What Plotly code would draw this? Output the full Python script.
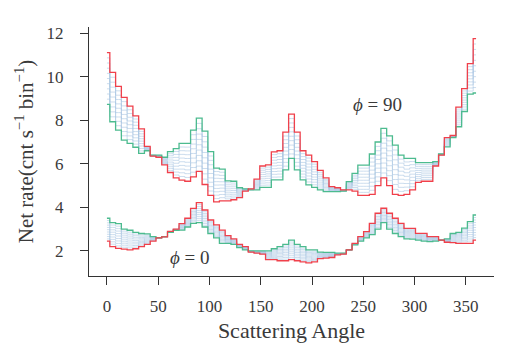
import plotly.graph_objects as go

# Bin centres (degrees): 64 bins of 5.625 deg, endpoints 0 and 360 included
angles = [k * 5.625 for k in range(65)]

# phi = 90 group
red_90 = [11.1, 10.2, 9.55, 9.05, 8.65, 8.2, 7.6, 6.8, 6.35, 6.3,
          5.95, 5.6, 5.35, 5.25, 5.2, 5.4, 5.65, 5.05, 4.55, 4.25,
          4.3, 4.3, 4.35, 4.45, 4.75, 4.85, 5.3, 5.9, 5.95, 6.55,
          6.6, 7.45, 8.28, 7.45, 6.6, 6.4, 6.1, 5.7, 5.35, 4.95,
          4.9, 4.8, 4.8, 4.75, 4.55, 4.55, 4.6, 5.0, 5.35, 5.0,
          4.6, 4.55, 4.6, 4.8, 5.15, 5.2, 5.2, 5.9, 6.4, 7.2,
          7.3, 8.6, 9.45, 10.6, 11.75]
green_90 = [8.73, 7.93, 7.55, 7.09, 6.94, 6.76, 6.48, 6.6, 6.4, 6.4,
            6.3, 6.56, 6.7, 6.94, 6.94, 7.55, 8.1, 7.5, 6.56, 5.8,
            5.76, 5.22, 5.2, 4.9, 4.85, 4.8, 4.8, 4.92, 4.92, 5.26,
            5.26, 5.72, 6.25, 5.72, 5.26, 5.03, 4.92, 4.8, 4.72, 4.72,
            4.72, 4.75, 5.18, 5.56, 5.94, 5.94, 6.45, 7.0, 7.63, 7.28,
            6.86, 6.4, 6.25, 6.25, 6.05, 6.05, 6.05, 6.1, 6.45, 6.78,
            7.2, 7.7, 8.4, 9.2, 9.25]

# phi = 0 group
red_0 = [2.45, 2.2, 2.12, 2.08, 2.05, 2.1, 2.2, 2.3, 2.45, 2.6,
         2.65, 2.9, 3.0, 3.25, 3.5, 3.95, 4.22, 3.88, 3.42, 3.2,
         2.96, 2.7, 2.55, 2.3, 2.2, 1.95, 1.9, 1.85, 1.6, 1.6,
         1.55, 1.55, 1.6, 1.55, 1.5, 1.45, 1.5, 1.65, 1.67, 1.7,
         1.82, 1.85, 2.05, 2.35, 2.66, 2.89, 3.27, 3.73, 3.96, 3.73,
         3.5, 3.27, 3.04, 3.04, 2.81, 2.81, 2.66, 2.66, 2.5, 2.4,
         2.38, 2.35, 2.35, 2.35, 2.5]
green_0 = [3.5, 3.3, 3.25, 3.0, 2.95, 2.85, 2.8, 2.78, 2.66, 2.6,
           2.66, 2.85, 2.95, 2.96, 3.1, 3.27, 3.3, 3.1, 2.8, 2.6,
           2.35, 2.35, 2.3, 2.15, 2.05, 2.0, 2.0, 2.0, 2.0, 2.1,
           2.2, 2.3, 2.5, 2.3, 2.2, 2.05, 2.05, 1.95, 1.93, 1.93,
           1.9, 1.9, 2.05, 2.28, 2.45, 2.6, 2.75, 3.0, 3.3, 3.0,
           2.8, 2.66, 2.55, 2.54, 2.5, 2.45, 2.43, 2.45, 2.5, 2.55,
           2.8, 2.85, 3.05, 3.35, 3.65]

x_ticks = [0, 50, 100, 150, 200, 250, 300, 350]
y_ticks = [2, 4, 6, 8, 10, 12]

RED = "#f0404b"
GREEN = "#4cbb8f"
BLUE = "rgba(170,198,226,0.75)"
FONT = "Liberation Serif"
TXT = "#3a3a3a"

fig = go.Figure()

for red, green in [(red_90, green_90), (red_0, green_0)]:
    for i in range(1, 10):
        f = i / 10
        mid = [r + f * (g - r) for r, g in zip(red, green)]
        fig.add_trace(go.Scatter(x=angles, y=mid, mode="lines",
                                 line=dict(color=BLUE, width=0.8, shape="hvh"),
                                 hoverinfo="skip", showlegend=False))
    fig.add_trace(go.Scatter(x=angles, y=green, mode="lines",
                             line=dict(color=GREEN, width=1.3, shape="hvh"),
                             showlegend=False))
    fig.add_trace(go.Scatter(x=angles, y=red, mode="lines",
                             line=dict(color=RED, width=1.3, shape="hvh"),
                             showlegend=False))

fig.add_annotation(x=264, y=8.74, text="<i>ϕ</i> = 90", showarrow=False,
                   font=dict(family=FONT, size=19, color=TXT))
fig.add_annotation(x=81, y=1.68, text="<i>ϕ</i> = 0", showarrow=False,
                   font=dict(family=FONT, size=19, color=TXT))

axis_common = dict(showgrid=False, zeroline=False, showline=True,
                   linecolor="#333333", linewidth=1.3, ticks="outside",
                   ticklen=8, tickwidth=1.1, tickcolor="#333333",
                   tickfont=dict(family=FONT, size=17, color=TXT),
                   mirror=False)

fig.update_xaxes(range=[-17.5, 377.5], tickvals=x_ticks,
                 ticktext=[str(t) for t in x_ticks],
                 title=dict(text="Scattering Angle", standoff=8,
                            font=dict(family=FONT, size=22, color=TXT)),
                 ticklabelstandoff=6, **axis_common)
fig.update_yaxes(range=[0.85, 12.28], tickvals=y_ticks,
                 ticktext=[str(t) for t in y_ticks],
                 title=dict(text="Net rate(cnt s<sup>−1</sup> bin<sup>−1</sup>)",
                            standoff=7,
                            font=dict(family=FONT, size=21, color=TXT)),
                 ticklabelstandoff=13, **axis_common)

fig.update_layout(width=522, height=358,
                  margin=dict(l=89, r=28, t=27, b=82),
                  paper_bgcolor="white", plot_bgcolor="white")

fig.write_html("out.html")
